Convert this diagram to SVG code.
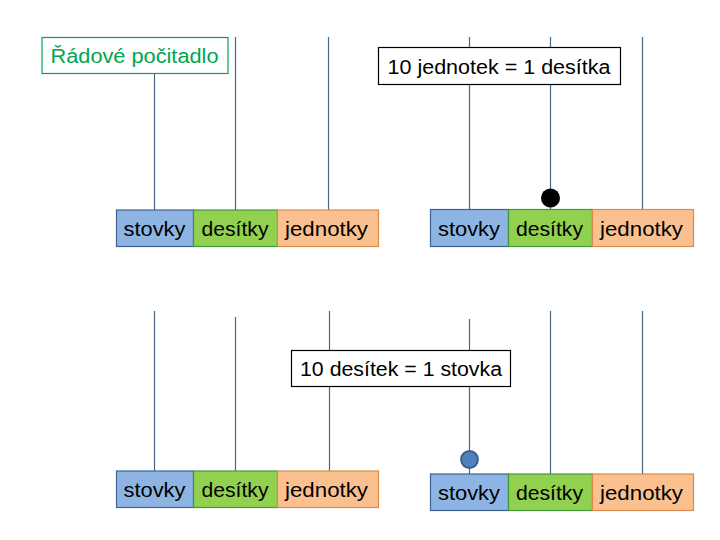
<svg xmlns="http://www.w3.org/2000/svg" width="720" height="540" viewBox="0 0 720 540">
<style>
text{font-family:"Liberation Sans","Noto Sans",Arial,sans-serif;font-size:20px;fill:#000}
.rod{stroke:#4a6782;stroke-width:1.2;fill:none}
.st{fill:#8eb4e3;stroke:#3e6296;stroke-width:1.2}
.de{fill:#92d050;stroke:#3f9a3a;stroke-width:1.2}
.je{fill:#fac090;stroke:#d98a4a;stroke-width:1.2}
.lbl{fill:#fff;stroke:#000;stroke-width:1.2}
</style>
<rect width="720" height="540" fill="#fff"/>
<g id="connectors">
<line class="rod" x1="154.5" y1="37" x2="154.5" y2="210"/>
<line class="rod" x1="235.5" y1="37" x2="235.5" y2="210"/>
<line class="rod" x1="328.5" y1="37" x2="328.5" y2="210"/>
<line class="rod" x1="469.5" y1="37" x2="469.5" y2="209"/>
<line class="rod" x1="550.5" y1="37" x2="550.5" y2="209"/>
<line class="rod" x1="642.5" y1="37" x2="642.5" y2="209"/>
<line class="rod" x1="154.5" y1="311" x2="154.5" y2="471"/>
<line class="rod" x1="235.5" y1="317" x2="235.5" y2="471"/>
<line class="rod" x1="329.5" y1="311" x2="329.5" y2="471"/>
<line class="rod" x1="469.5" y1="319" x2="469.5" y2="474"/>
<line class="rod" x1="550.5" y1="311" x2="550.5" y2="474"/>
<line class="rod" x1="642.5" y1="311" x2="642.5" y2="474"/>
</g>
<g id="title">
<rect x="42" y="37.5" width="186" height="36" fill="#fff" stroke="#00a651" stroke-width="1.2"/>
<text x="50.5" y="63" textLength="168" lengthAdjust="spacingAndGlyphs" style="fill:#00a651">Řádové počitadlo</text>
</g>
<g id="label-top">
<rect class="lbl" x="378.5" y="47.5" width="242" height="37"/>
<text x="387.5" y="74" textLength="223" lengthAdjust="spacingAndGlyphs">10 jednotek = 1 desítka</text>
</g>
<g id="label-bottom">
<rect class="lbl" x="291.5" y="350.5" width="219" height="36"/>
<text x="300" y="376" textLength="202" lengthAdjust="spacingAndGlyphs">10 desítek = 1 stovka</text>
</g>
<g id="bar-top-left">
<rect class="st" x="116.5" y="210" width="77" height="36.5"/>
<rect class="de" x="193.5" y="210" width="84" height="36.5"/>
<rect class="je" x="277.5" y="210" width="101" height="36.5"/>
<text x="123.5" y="235.5" textLength="62" lengthAdjust="spacingAndGlyphs">stovky</text>
<text x="201.5" y="235.5" textLength="67" lengthAdjust="spacingAndGlyphs">desítky</text>
<text x="285" y="235.5" textLength="83" lengthAdjust="spacingAndGlyphs">jednotky</text>
</g>
<g id="bar-top-right">
<rect class="st" x="430.5" y="209.5" width="78" height="37"/>
<rect class="de" x="508.5" y="209.5" width="84" height="37"/>
<rect class="je" x="592.5" y="209.5" width="101" height="37"/>
<text x="438" y="235.5" textLength="62" lengthAdjust="spacingAndGlyphs">stovky</text>
<text x="516" y="235.5" textLength="67" lengthAdjust="spacingAndGlyphs">desítky</text>
<text x="600" y="235.5" textLength="83" lengthAdjust="spacingAndGlyphs">jednotky</text>
</g>
<g id="bead-top">
<circle cx="550.5" cy="198" r="9.5" fill="#000"/>
</g>
<g id="bar-bottom-left">
<rect class="st" x="116.5" y="471" width="77" height="36.5"/>
<rect class="de" x="193.5" y="471" width="84" height="36.5"/>
<rect class="je" x="277.5" y="471" width="101" height="36.5"/>
<text x="123.5" y="497" textLength="62" lengthAdjust="spacingAndGlyphs">stovky</text>
<text x="201.5" y="497" textLength="67" lengthAdjust="spacingAndGlyphs">desítky</text>
<text x="285" y="497" textLength="83" lengthAdjust="spacingAndGlyphs">jednotky</text>
</g>
<g id="bar-bottom-right">
<rect class="st" x="430.5" y="474" width="78" height="36.5"/>
<rect class="de" x="508.5" y="474" width="84" height="36.5"/>
<rect class="je" x="592.5" y="474" width="101" height="36.5"/>
<text x="438" y="499.5" textLength="62" lengthAdjust="spacingAndGlyphs">stovky</text>
<text x="516" y="499.5" textLength="67" lengthAdjust="spacingAndGlyphs">desítky</text>
<text x="600" y="499.5" textLength="83" lengthAdjust="spacingAndGlyphs">jednotky</text>
</g>
<g id="bead-bottom">
<circle cx="469.5" cy="459.5" r="8.5" fill="#4f81bd" stroke="#385d8a" stroke-width="1.8"/>
</g>
</svg>
